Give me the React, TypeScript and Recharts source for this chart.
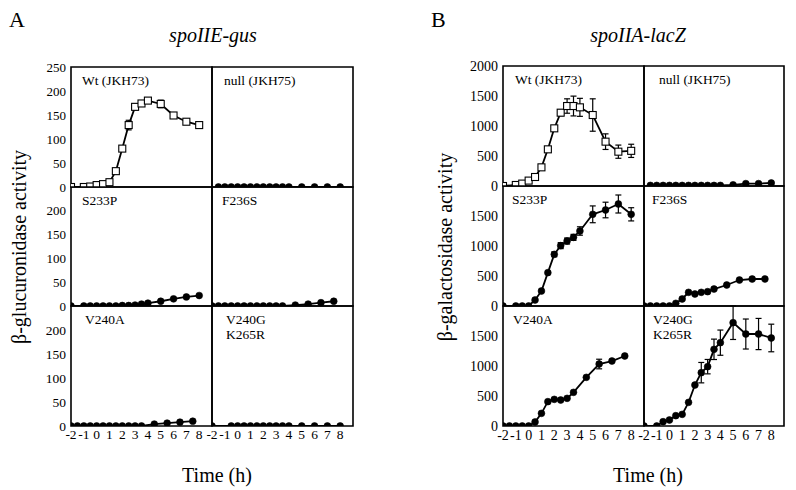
import React from 'react';
import { LineChart, Line, XAxis, YAxis, ReferenceArea, ErrorBar } from 'recharts';

const FONT = '"Liberation Serif", "Times New Roman", serif';

// time points (h)
const T_WT = [-2, -1, -0.5, 0, 0.5, 1, 1.5, 2, 2.5, 3, 3.5, 4, 5, 6, 7, 8];
const T_NULL = [-1.5, -1, -0.5, 0, 0.5, 1, 1.5, 2, 2.5, 3, 3.5, 4, 5, 6, 7, 8];
const T_S233P = T_WT;
const T_F236S = [-2, -1.5, -1, -0.5, 0, 0.5, 1, 1.5, 2, 2.5, 3, 3.5, 4.5, 5.5, 6.5, 7.5];
const T_V240A = T_F236S;
const T_V240G_A = [-2, -0.5, 0, 0.5, 1, 1.5, 2, 2.5, 3, 3.5, 4, 5, 6, 7, 8];
const T_V240G_B = T_WT;

// A: spoIIE-gus (beta-glucuronidase)
const GUS_WT = [0, 0, 1, 4, 6, 10, 33, 80, 129, 167, 174, 180, 173, 149, 136, 129];
const GUS_WT_ERR = [0, 0, 0, 0, 0, 2, 4, 5, 10, 6, 5, 5, 8, 5, 4, 4];
const GUS_NULL = [0, 0, 0, 0, 0, 0, 0, 0, 0, 0, 0, 0, 0, 0, 0, 0];
const GUS_S233P = [0, 0, 0, 0, 0, 0, 0, 1, 1, 2, 4, 6, 10, 15, 19, 22];
const GUS_F236S = [0, 0, 0, 0, 0, 0, 0, 0, 0, 0, 0, 0, 2, 4, 7, 10];
const GUS_V240A = [0, 0, 0, 0, 0, 0, 0, 0, 0, 0, 0, 0, 4, 6, 8, 10];
const GUS_V240G = [0, 0, 0, 0, 0, 0, 0, 0, 0, 0, 0, 0, 0, 0, 0];

// B: spoIIA-lacZ (beta-galactosidase)
const LACZ_WT = [0, 17, 40, 90, 150, 311, 611, 961, 1222, 1333, 1333, 1311, 1183, 739, 572, 586];
const LACZ_WT_ERR = [0, 0, 0, 0, 0, 0, 30, 40, 50, 120, 165, 150, 270, 130, 110, 110];
const LACZ_NULL = [10, 10, 10, 10, 10, 10, 10, 10, 10, 10, 10, 10, 20, 40, 40, 50];
const LACZ_S233P = [0, 0, 0, 0, 100, 250, 556, 861, 1006, 1083, 1144, 1250, 1528, 1600, 1700, 1528];
const LACZ_S233P_ERR = [0, 0, 0, 0, 0, 0, 0, 40, 50, 50, 50, 70, 140, 130, 150, 110];
const LACZ_F236S = [0, 0, 0, 0, 0, 45, 117, 228, 200, 228, 239, 283, 350, 433, 450, 450];
const LACZ_V240A = [0, 0, 0, 0, 0, 67, 211, 406, 444, 433, 461, 561, 811, 1033, 1083, 1167];
const LACZ_V240A_ERR = [0, 0, 0, 0, 0, 0, 0, 0, 0, 0, 0, 0, 0, 80, 0, 0];
const LACZ_V240G = [0, 0, 72, 100, 172, 194, 394, 683, 889, 989, 1278, 1389, 1722, 1533, 1533, 1467];
const LACZ_V240G_ERR = [0, 0, 0, 0, 0, 0, 0, 0, 170, 120, 170, 210, 280, 250, 260, 230];

// ticks
const X_TICKS = [-2, -1, 0, 1, 2, 3, 4, 5, 6, 7, 8];
const X_DOMAIN = [-2, 9];
const A_YLAB_TOP = [0, 50, 100, 150, 200, 250];
const A_YLAB = [0, 50, 100, 150, 200];
const A_YIN = [50, 100, 150, 200];
const B_YLAB_TOP = [0, 500, 1000, 1500, 2000];
const B_YLAB = [0, 500, 1000, 1500];
const B_YIN = [500, 1000, 1500];

type PanelProps = {
  left: number; top: number; w: number; h: number;
  yMax: number; yIn: number[]; yLab?: number[] | null; showX?: boolean;
  times: number[]; vals: number[]; errs?: number[];
  square?: boolean; fs: number;
};

const SquareDot = (p: any) => {
  if (p.cx == null || p.cy == null) return <g key={p.key} />;
  return (
    <rect key={p.key} x={p.cx - 3.5} y={p.cy - 3.5} width={7} height={7}
      fill="#fff" stroke="#000" strokeWidth={1.1} />
  );
};

const makeXTick = (fs: number) => (p: any) => (
  <text x={p.x} y={p.y} dy="0.75em" textAnchor="middle" fontSize={fs} fontFamily={FONT} fill="#000">
    {p.payload.value}
  </text>
);
const makeYTick = (fs: number) => (p: any) => (
  <text x={p.x} y={p.y} dy="0.35em" textAnchor="end" fontSize={fs} fontFamily={FONT} fill="#000">
    {p.payload.value}
  </text>
);

function Panel({ left, top, w, h, yMax, yIn, yLab, showX, times, vals, errs, square, fs }: PanelProps) {
  const ML = yLab ? 44 : 6;
  const MT = 10;
  const MR = 6;
  const MB = showX ? 26 : 10;
  const data = times.map((t, i) => ({ t, y: vals[i], e: errs && errs[i] ? errs[i] : undefined }));
  return (
    <div style={{ position: 'absolute', left: left - ML, top: top - MT, fontFamily: FONT }}>
      <LineChart width={ML + w + MR} height={MT + h + MB} data={data}
        margin={{ top: MT, right: MR, bottom: showX ? 0 : MB, left: yLab ? 0 : ML }}>
        <XAxis xAxisId="x" type="number" dataKey="t" domain={X_DOMAIN} ticks={X_TICKS}
          mirror tick={false} tickSize={4} axisLine={false} tickLine={{ stroke: '#000', strokeWidth: 1.2 }}
          allowDataOverflow />
        {showX && (
          <XAxis xAxisId="xl" type="number" dataKey="t" domain={X_DOMAIN} ticks={X_TICKS}
            interval={0} height={26} tickSize={0} tickMargin={3} axisLine={false} tickLine={false}
            allowDataOverflow tick={makeXTick(fs)} />
        )}
        <YAxis yAxisId="y" type="number" domain={[0, yMax]} ticks={yIn} mirror tick={false}
          tickSize={5} axisLine={false} tickLine={{ stroke: '#000', strokeWidth: 1.2 }} allowDataOverflow />
        {yLab && (
          <YAxis yAxisId="yl" type="number" domain={[0, yMax]} ticks={yLab} interval={0} width={44}
            tickSize={0} tickMargin={5} axisLine={false} tickLine={false} allowDataOverflow
            tick={makeYTick(fs)} />
        )}
        <ReferenceArea xAxisId="x" yAxisId="y" x1={X_DOMAIN[0]} x2={X_DOMAIN[1]} y1={0} y2={yMax}
          fill="none" fillOpacity={0} stroke="#000" strokeWidth={1.6} ifOverflow="visible" />
        <Line xAxisId="x" yAxisId="y" dataKey="y" stroke="#000" strokeWidth={1.8}
          isAnimationActive={false}
          dot={square ? SquareDot : { r: 3.4, fill: '#000', stroke: '#000', strokeWidth: 0.6 }}>
          {errs && (
            <ErrorBar dataKey="e" width={3} stroke="#000" strokeWidth={1.2} direction="y" />
          )}
        </Line>
      </LineChart>
    </div>
  );
}

const AX = [71, 212, 353];
const AY = [67, 187, 306, 426];
const BX = [503, 644, 784];
const BY = [66, 186, 306, 426];

export default function App() {
  const aw0 = AX[1] - AX[0], aw1 = AX[2] - AX[1];
  const bw0 = BX[1] - BX[0], bw1 = BX[2] - BX[1];
  const ah = (r: number) => AY[r + 1] - AY[r];
  const bh = (r: number) => BY[r + 1] - BY[r];
  const lab = (x: number, y: number, s: string, size = 13.5) => (
    <text x={x} y={y} fontSize={size} fontFamily={FONT} fill="#000">{s}</text>
  );
  return (
    <div style={{ position: 'absolute', left: 0, top: 0, width: 796, height: 490, background: '#fff', overflow: 'hidden', fontFamily: FONT }}>
      {/* Panel A */}
      <Panel left={AX[0]} top={AY[0]} w={aw0} h={ah(0)} yMax={250} yIn={A_YIN} yLab={A_YLAB_TOP}
        times={T_WT} vals={GUS_WT} errs={GUS_WT_ERR} square fs={13} />
      <Panel left={AX[1]} top={AY[0]} w={aw1} h={ah(0)} yMax={250} yIn={A_YIN}
        times={T_NULL} vals={GUS_NULL} fs={13} />
      <Panel left={AX[0]} top={AY[1]} w={aw0} h={ah(1)} yMax={250} yIn={A_YIN} yLab={A_YLAB}
        times={T_S233P} vals={GUS_S233P} fs={13} />
      <Panel left={AX[1]} top={AY[1]} w={aw1} h={ah(1)} yMax={250} yIn={A_YIN}
        times={T_F236S} vals={GUS_F236S} fs={13} />
      <Panel left={AX[0]} top={AY[2]} w={aw0} h={ah(2)} yMax={250} yIn={A_YIN} yLab={A_YLAB} showX
        times={T_V240A} vals={GUS_V240A} fs={13.5} />
      <Panel left={AX[1]} top={AY[2]} w={aw1} h={ah(2)} yMax={250} yIn={A_YIN} showX
        times={T_V240G_A} vals={GUS_V240G} fs={13.5} />

      {/* Panel B */}
      <Panel left={BX[0]} top={BY[0]} w={bw0} h={bh(0)} yMax={2000} yIn={B_YIN} yLab={B_YLAB_TOP}
        times={T_WT} vals={LACZ_WT} errs={LACZ_WT_ERR} square fs={14} />
      <Panel left={BX[1]} top={BY[0]} w={bw1} h={bh(0)} yMax={2000} yIn={B_YIN}
        times={T_NULL} vals={LACZ_NULL} fs={14} />
      <Panel left={BX[0]} top={BY[1]} w={bw0} h={bh(1)} yMax={2000} yIn={B_YIN} yLab={B_YLAB}
        times={T_S233P} vals={LACZ_S233P} errs={LACZ_S233P_ERR} fs={14} />
      <Panel left={BX[1]} top={BY[1]} w={bw1} h={bh(1)} yMax={2000} yIn={B_YIN}
        times={T_F236S} vals={LACZ_F236S} fs={14} />
      <Panel left={BX[0]} top={BY[2]} w={bw0} h={bh(2)} yMax={2000} yIn={B_YIN} yLab={B_YLAB} showX
        times={T_V240A} vals={LACZ_V240A} errs={LACZ_V240A_ERR} fs={14} />
      <Panel left={BX[1]} top={BY[2]} w={bw1} h={bh(2)} yMax={2000} yIn={B_YIN} showX
        times={T_V240G_B} vals={LACZ_V240G} errs={LACZ_V240G_ERR} fs={14} />

      <svg width={796} height={490} style={{ position: 'absolute', left: 0, top: 0, pointerEvents: 'none' }}>
        <text x={9} y={27} fontSize={22} fontFamily={FONT} fill="#000">A</text>
        <text x={431} y={27} fontSize={22} fontFamily={FONT} fill="#000">B</text>
        <text x={213} y={42} fontSize={20} fontFamily={FONT} fontStyle="italic" textAnchor="middle" fill="#000">spoIIE-gus</text>
        <text x={638} y={42} fontSize={20} fontFamily={FONT} fontStyle="italic" textAnchor="middle" fill="#000">spoIIA-lacZ</text>
        <text x={0} y={0} transform="translate(26,247) rotate(-90)" fontSize={20} fontFamily={FONT} textAnchor="middle" fill="#000">β-glucuronidase activity</text>
        <text x={0} y={0} transform="translate(452,247) rotate(-90)" fontSize={20} fontFamily={FONT} textAnchor="middle" fill="#000">β-galactosidase activity</text>
        <text x={217} y={482} fontSize={20} fontFamily={FONT} textAnchor="middle" fill="#000">Time (h)</text>
        <text x={648} y={482} fontSize={20} fontFamily={FONT} textAnchor="middle" fill="#000">Time (h)</text>

        {lab(AX[0] + 11, AY[0] + 18, 'Wt (JKH73)')}
        {lab(AX[1] + 12, AY[0] + 18, 'null (JKH75)')}
        {lab(AX[0] + 11, AY[1] + 18, 'S233P')}
        {lab(AX[1] + 10, AY[1] + 18, 'F236S')}
        {lab(AX[0] + 14, AY[2] + 18, 'V240A')}
        {lab(AX[1] + 14, AY[2] + 18, 'V240G')}
        {lab(AX[1] + 14, AY[2] + 33, 'K265R')}

        {lab(BX[0] + 12, BY[0] + 18, 'Wt (JKH73)')}
        {lab(BX[1] + 15, BY[0] + 18, 'null (JKH75)')}
        {lab(BX[0] + 9, BY[1] + 18, 'S233P')}
        {lab(BX[1] + 8, BY[1] + 18, 'F236S')}
        {lab(BX[0] + 10, BY[2] + 18, 'V240A')}
        {lab(BX[1] + 9, BY[2] + 18, 'V240G')}
        {lab(BX[1] + 9, BY[2] + 33, 'K265R')}
      </svg>
    </div>
  );
}
